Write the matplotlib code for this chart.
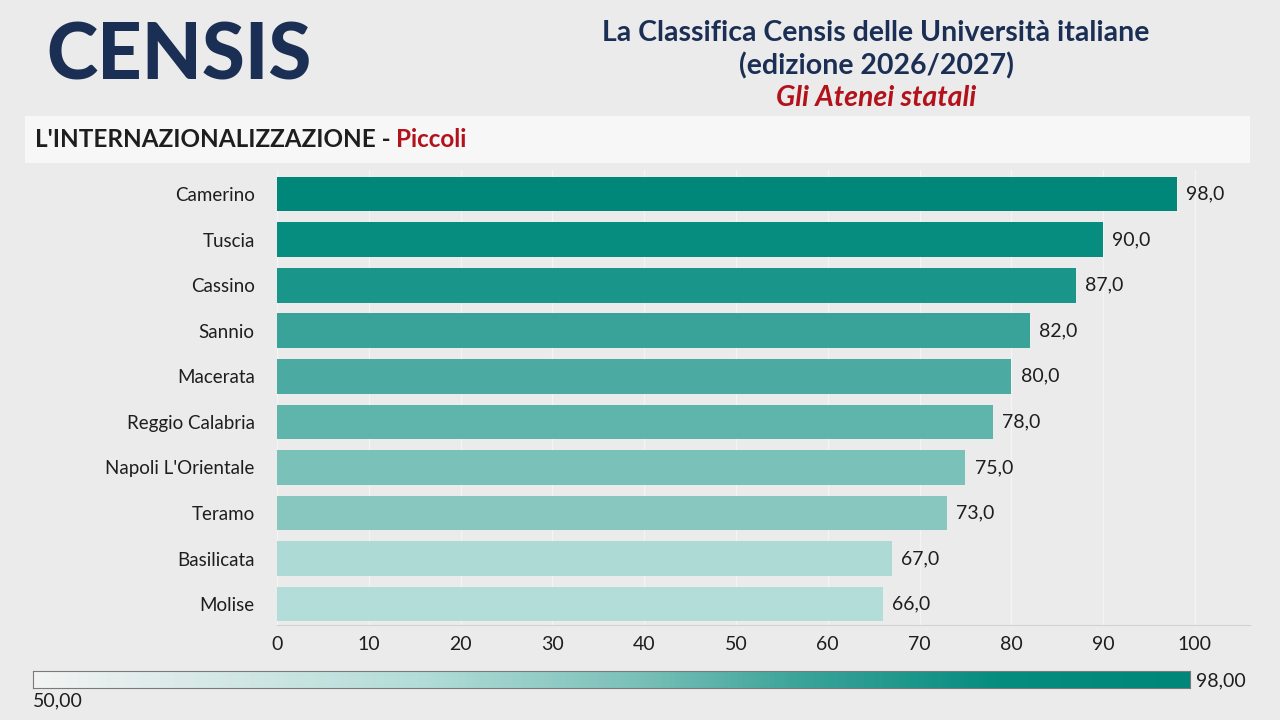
import numpy as np
import matplotlib
matplotlib.use("Agg")
from matplotlib import pyplot as plt
from matplotlib.colors import LinearSegmentedColormap, Normalize

# data
atenei = ["Camerino", "Tuscia", "Cassino", "Sannio", "Macerata",
          "Reggio Calabria", "Napoli L'Orientale", "Teramo", "Basilicata", "Molise"]
punteggi = [98.0, 90.0, 87.0, 82.0, 80.0, 78.0, 75.0, 73.0, 67.0, 66.0]
x_ticks = [0, 10, 20, 30, 40, 50, 60, 70, 80, 90, 100]
scala_min, scala_max = 50.0, 98.0

navy = "#1b2f55"
rosso = "#b3121b"
testo = "#1e1e1e"

plt.rcParams["font.family"] = ["Lato", "DejaVu Sans"]

cmap = LinearSegmentedColormap.from_list(
    "censis",
    [(0.0, "#f3f3f3"), (0.333, "#b3ddd8"), (0.52, "#7bc1b9"),
     (0.667, "#3aa399"), (0.833, "#068d80"), (1.0, "#00877a")])
norm = Normalize(scala_min, scala_max)

fig = plt.figure(figsize=(12.8, 7.2), dpi=100)
fig.patch.set_facecolor("#ebebeb")

# logo and titles
fig.text(46 / 1280, 1 - 57 / 720, "CENSIS", fontsize=56, fontweight="black",
         color=navy, ha="left", va="center")
fig.text(876 / 1280, 1 - 33 / 720, "La Classifica Censis delle Università italiane",
         fontsize=20.5, fontweight="bold", color=navy, ha="center", va="center")
fig.text(876 / 1280, 1 - 66 / 720, "(edizione 2026/2027)",
         fontsize=20.5, fontweight="bold", color=navy, ha="center", va="center")
fig.text(876 / 1280, 1 - 98 / 720, "Gli Atenei statali", fontsize=20.5,
         fontweight="bold", fontstyle="italic", color=rosso, ha="center", va="center")

# header band
band = fig.add_axes([25 / 1280, 1 - 163 / 720, 1225 / 1280, 47 / 720])
band.set_facecolor("#f7f7f7")
band.set_xticks([])
band.set_yticks([])
for s in band.spines.values():
    s.set_visible(False)
t1 = band.text(10 / 1225, 0.5, "L'INTERNAZIONALIZZAZIONE - ", fontsize=17.5,
               fontweight="bold", color=testo, ha="left", va="center",
               transform=band.transAxes)
fig.canvas.draw()
bb = t1.get_window_extent().transformed(band.transAxes.inverted())
band.text(bb.x1, 0.5, "Piccoli", fontsize=17.5, fontweight="bold", color=rosso,
          ha="left", va="center", transform=band.transAxes)

# bar chart
ax = fig.add_axes([277 / 1280, 1 - 625 / 720, (1250 - 277) / 1280, 455 / 720])
ax.set_facecolor("none")
y = np.arange(len(atenei))
ax.barh(y, punteggi, height=0.76, color=cmap(norm(punteggi)), zorder=2)
for yi, v in zip(y, punteggi):
    ax.text(v + 1.0, yi, f"{v:.1f}".replace(".", ","), fontsize=14,
            color=testo, va="center", ha="left")
ax.set_xlim(0, 106)
ax.set_ylim(len(atenei) - 0.54, -0.53)
ax.set_yticks(y)
ax.set_yticklabels(atenei, fontsize=13.5, color=testo)
ax.set_xticks(x_ticks)
ax.set_xticklabels([str(t) for t in x_ticks], fontsize=14, color=testo)
ax.tick_params(length=0, pad=16, axis="y")
ax.tick_params(length=0, pad=8, axis="x")
ax.grid(axis="x", color="#f4f4f4", lw=1, zorder=0)
for side in ["top", "right", "left"]:
    ax.spines[side].set_visible(False)
ax.spines["bottom"].set_color("#d2d2d2")

# colour scale
cb = fig.add_axes([33 / 1280, 1 - 688 / 720, (1190 - 33) / 1280, 17 / 720])
grad = np.linspace(scala_min, scala_max, 512).reshape(1, -1)
cb.imshow(grad, aspect="auto", cmap=cmap, norm=norm,
          extent=[scala_min, scala_max, 0, 1])
cb.set_xticks([])
cb.set_yticks([])
for s in cb.spines.values():
    s.set_color("#7a7a7a")
    s.set_linewidth(0.8)
fig.text(33 / 1280, 1 - 701 / 720, f"{scala_min:.2f}".replace(".", ","),
         fontsize=14, color=testo, ha="left", va="center")
fig.text(1196 / 1280, 1 - 681 / 720, f"{scala_max:.2f}".replace(".", ","),
         fontsize=14, color=testo, ha="left", va="center")

fig.savefig("out.png", dpi=100, facecolor=fig.get_facecolor())
